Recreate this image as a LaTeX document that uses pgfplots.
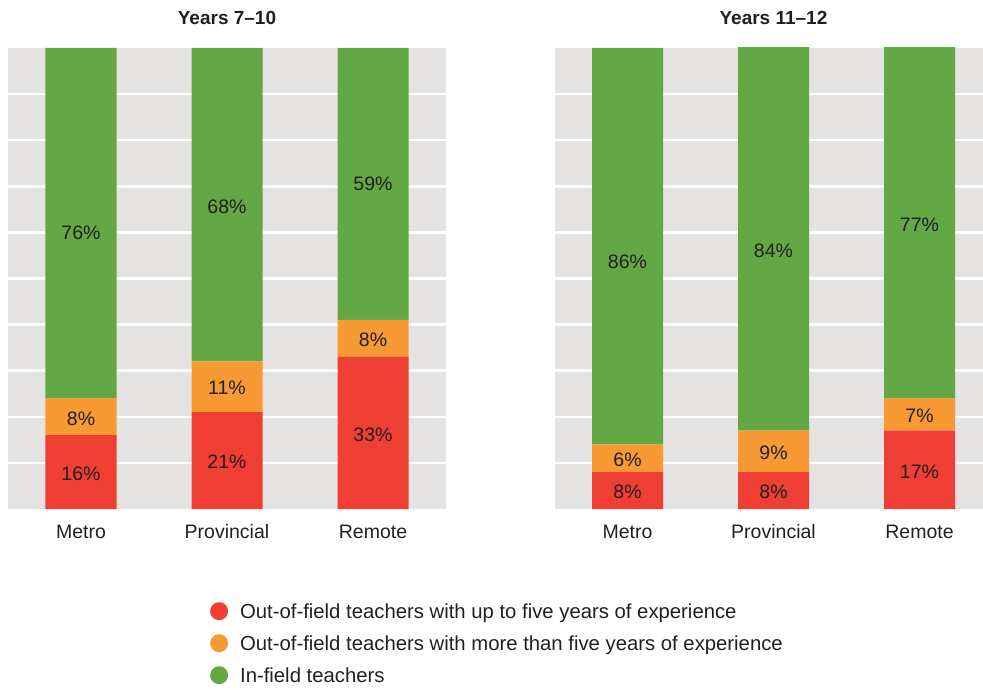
\documentclass[border=0pt]{standalone}
\usepackage{fontspec}
\setmainfont{Liberation Sans}
\usepackage{pgfplots}
\pgfplotsset{compat=1.18}

\definecolor{bgray}{HTML}{E4E3E1}
\definecolor{cgreen}{HTML}{63A844}
\definecolor{corange}{HTML}{F89A34}
\definecolor{cred}{HTML}{EF3E33}
\definecolor{ctext}{HTML}{231F20}

\newcommand{\lblfont}{\fontsize{19.5}{22}\selectfont}

\pgfplotsset{
  panel/.style={
    scale only axis, height=461pt,
    xmin=-0.5, ymin=0, ymax=100,
    xtick={0,1,2}, xticklabels={Metro,Provincial,Remote},
    ytick={10,20,...,90}, yticklabels={},
    ymajorgrids, grid style={white, line width=2.5pt},
    axis line style={draw=none}, major tick length=0pt,
    axis background/.style={fill=bgray},
    ybar stacked, bar width=71pt,
    xticklabel style={font=\lblfont, text=ctext, anchor=base, yshift=-29pt, inner sep=0pt},
    title style={font=\bfseries\fontsize{19}{22}\selectfont, text=ctext,
      anchor=base, yshift=17pt, inner sep=0pt},
  },
  labels/.style={
    scale only axis, height=461pt,
    xmin=-0.5, ymin=0, ymax=100, hide axis,
    nodes near coords={\pgfplotspointmeta\%}, point meta=explicit symbolic,
    every node near coord/.style={anchor=center, font=\lblfont, text=ctext},
  },
}

\begin{document}
\begin{tikzpicture}[x=1pt,y=1pt]
\useasboundingbox (0,0) rectangle (983,689);

% Years 7-10
\begin{axis}[panel, at={(8pt,180pt)}, anchor=south west, width=438pt, xmax=2.5,
    title={Years 7--10}, title style={at={(0.5,1)}},
    legend image code/.code={\fill[#1] (0pt,2pt) circle (9pt); \path (21pt,0pt);},
    legend style={at={(0.461,-0.2017)}, anchor=north west, draw=none, fill=none,
      font=\fontsize{20.3}{22}\selectfont, text=ctext, row sep=12pt, inner sep=0pt,
      nodes={inner sep=0pt, text height=14pt, text depth=4pt}},
    legend cell align=left]
\addplot[fill=cred, draw=none] coordinates {(0,16) (1,21) (2,33)};
\addlegendentry{Out-of-field teachers with up to five years of experience}
\addplot[fill=corange, draw=none] coordinates {(0,8) (1,11) (2,8)};
\addlegendentry{Out-of-field teachers with more than five years of experience}
\addplot[fill=cgreen, draw=none] coordinates {(0,76) (1,68) (2,59)};
\addlegendentry{In-field teachers}
\end{axis}
\begin{axis}[labels, at={(8pt,180pt)}, anchor=south west, width=438pt, xmax=2.5]
\addplot[draw=none] coordinates {
  (0,7.6) [16] (1,10.2) [21] (2,16.2) [33]
  (0,19.6) [8] (1,26.2) [11] (2,36.6) [8]
  (0,60) [76] (1,65.6) [68] (2,70.6) [59]
};
\end{axis}

% Years 11-12
\begin{axis}[panel, at={(554.5pt,180pt)}, anchor=south west, width=428.5pt, xmax=2.435,
    title={Years 11--12}, title style={at={(0.511,1)}}]
\addplot[fill=cred, draw=none] coordinates {(0,8) (1,8) (2,17)};
\addplot[fill=corange, draw=none] coordinates {(0,6) (1,9) (2,7)};
\addplot[fill=cgreen, draw=none] coordinates {(0,86) (1,84) (2,77)};
\end{axis}
\begin{axis}[labels, at={(554.5pt,180pt)}, anchor=south west, width=428.5pt, xmax=2.435]
\addplot[draw=none] coordinates {
  (0,3.7) [8] (1,3.7) [8] (2,8.1) [17]
  (0,10.6) [6] (1,12.2) [9] (2,20.2) [7]
  (0,53.6) [86] (1,56) [84] (2,61.6) [77]
};
\end{axis}
\end{tikzpicture}
\end{document}
